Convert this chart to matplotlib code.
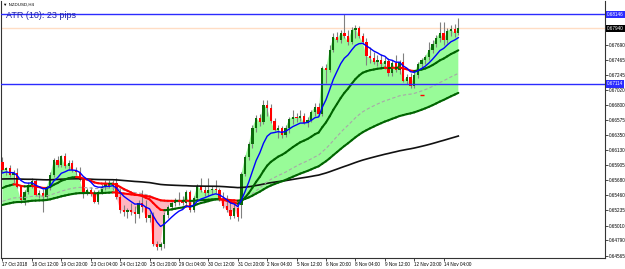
import numpy as np
import matplotlib
matplotlib.use("Agg")
import matplotlib.pyplot as plt
from matplotlib.transforms import blended_transform_factory

plt.rcParams["font.family"] = ["Liberation Sans", "DejaVu Sans"]

# NZDUSD H4 candles, 17 Oct 2018 -> 14 Nov 2018
open_ = [0.65954, 0.65836, 0.65865, 0.65761, 0.65791, 0.65583, 0.65390, 0.65509, 0.65613, 0.65672,
         0.65464, 0.65494, 0.65435, 0.65568, 0.65761, 0.65984, 0.65910, 0.66043, 0.65895, 0.65940,
         0.65836, 0.65806, 0.65687, 0.65494, 0.65539, 0.65494, 0.65360, 0.65509, 0.65583, 0.65628,
         0.65598, 0.65643, 0.65435, 0.65242, 0.65212, 0.65242, 0.65212, 0.65182, 0.65346, 0.65286,
         0.65123, 0.65167, 0.64737, 0.64692, 0.64737, 0.65167, 0.65286, 0.65346, 0.65375, 0.65390,
         0.65346, 0.65509, 0.65242, 0.65420, 0.65598, 0.65539, 0.65494, 0.65539, 0.65553, 0.65539,
         0.65405, 0.65301, 0.65242, 0.65152, 0.65271, 0.65316, 0.65776, 0.66029, 0.66222, 0.66459,
         0.66608, 0.66548, 0.66801, 0.66756, 0.66563, 0.66430, 0.66459, 0.66355, 0.66459, 0.66593,
         0.66623, 0.66608, 0.66637, 0.66533, 0.66578, 0.66697, 0.66771, 0.66667, 0.67350, 0.67321,
         0.67618, 0.67811, 0.67766, 0.67870, 0.67825, 0.67736, 0.67915, 0.67944, 0.67825, 0.67736,
         0.67528, 0.67499, 0.67439, 0.67469, 0.67410, 0.67454, 0.67276, 0.67424, 0.67321, 0.67439,
         0.67157, 0.67217, 0.67083, 0.67246, 0.67410, 0.67469, 0.67514, 0.67618, 0.67707, 0.67796,
         0.67870, 0.67766, 0.67900, 0.67929, 0.67870]
high = [0.66029, 0.65880, 0.65910, 0.65836, 0.65865, 0.65613, 0.65539, 0.65657, 0.65717, 0.65702,
        0.65539, 0.65553, 0.65598, 0.65806, 0.66014, 0.66043, 0.66058, 0.66088, 0.65984, 0.65984,
        0.65880, 0.65880, 0.65717, 0.65568, 0.65583, 0.65539, 0.65539, 0.65628, 0.65687, 0.65687,
        0.65687, 0.65717, 0.65568, 0.65316, 0.65271, 0.65346, 0.65301, 0.65390, 0.65539, 0.65390,
        0.65212, 0.65212, 0.64781, 0.64766, 0.65212, 0.65316, 0.65390, 0.65420, 0.65509, 0.65449,
        0.65539, 0.65539, 0.65449, 0.65628, 0.65717, 0.65598, 0.65717, 0.65598, 0.65687, 0.65568,
        0.65509, 0.65464, 0.65390, 0.65346, 0.65331, 0.65806, 0.66058, 0.66251, 0.66504, 0.66652,
        0.66667, 0.66875, 0.66875, 0.66816, 0.66608, 0.66504, 0.66489, 0.66504, 0.66623, 0.66727,
        0.66682, 0.66727, 0.66682, 0.66623, 0.66727, 0.66830, 0.66830, 0.67380, 0.67410, 0.67692,
        0.67870, 0.67885, 0.67915, 0.68146, 0.67915, 0.67959, 0.67989, 0.67974, 0.67870, 0.67796,
        0.67662, 0.67588, 0.67543, 0.67558, 0.67514, 0.67499, 0.67469, 0.67543, 0.67469, 0.67573,
        0.67261, 0.67276, 0.67291, 0.67439, 0.67499, 0.67543, 0.67736, 0.67766, 0.67840, 0.68033,
        0.68033, 0.67944, 0.67989, 0.68004, 0.68093]
low = [0.65806, 0.65761, 0.65732, 0.65643, 0.65568, 0.65346, 0.65316, 0.65479, 0.65568, 0.65449,
       0.65420, 0.65212, 0.65405, 0.65539, 0.65732, 0.65880, 0.65880, 0.65865, 0.65836, 0.65806,
       0.65761, 0.65672, 0.65420, 0.65464, 0.65449, 0.65346, 0.65331, 0.65479, 0.65539, 0.65568,
       0.65539, 0.65405, 0.65197, 0.65152, 0.65123, 0.65167, 0.65049, 0.65123, 0.65212, 0.65063,
       0.65063, 0.64707, 0.64648, 0.64648, 0.64677, 0.65123, 0.65242, 0.65301, 0.65316, 0.65316,
       0.65286, 0.65212, 0.65212, 0.65375, 0.65509, 0.65449, 0.65449, 0.65479, 0.65494, 0.65375,
       0.65271, 0.65212, 0.65108, 0.65123, 0.65078, 0.65123, 0.65746, 0.65984, 0.66162, 0.66400,
       0.66489, 0.66519, 0.66637, 0.66533, 0.66415, 0.66311, 0.66311, 0.66326, 0.66385, 0.66519,
       0.66548, 0.66563, 0.66519, 0.66474, 0.66548, 0.66637, 0.66637, 0.66637, 0.67128, 0.67291,
       0.67588, 0.67736, 0.67721, 0.67796, 0.67692, 0.67707, 0.67796, 0.67796, 0.67707, 0.67395,
       0.67424, 0.67410, 0.67380, 0.67350, 0.67335, 0.67231, 0.67231, 0.67291, 0.67261, 0.67142,
       0.67113, 0.67053, 0.67053, 0.67202, 0.67350, 0.67410, 0.67469, 0.67573, 0.67662, 0.67736,
       0.67692, 0.67721, 0.67825, 0.67811, 0.67840]
close = [0.65836, 0.65865, 0.65761, 0.65791, 0.65583, 0.65390, 0.65509, 0.65613, 0.65672, 0.65464,
         0.65494, 0.65435, 0.65568, 0.65761, 0.65984, 0.65910, 0.66043, 0.65895, 0.65940, 0.65836,
         0.65806, 0.65687, 0.65494, 0.65539, 0.65494, 0.65360, 0.65509, 0.65583, 0.65628, 0.65598,
         0.65643, 0.65435, 0.65242, 0.65212, 0.65242, 0.65212, 0.65182, 0.65346, 0.65286, 0.65123,
         0.65167, 0.64737, 0.64692, 0.64737, 0.65167, 0.65286, 0.65346, 0.65375, 0.65390, 0.65346,
         0.65509, 0.65242, 0.65420, 0.65598, 0.65539, 0.65494, 0.65539, 0.65553, 0.65539, 0.65405,
         0.65301, 0.65242, 0.65152, 0.65271, 0.65138, 0.65776, 0.66029, 0.66222, 0.66459, 0.66608,
         0.66548, 0.66801, 0.66756, 0.66563, 0.66430, 0.66459, 0.66355, 0.66459, 0.66593, 0.66623,
         0.66608, 0.66637, 0.66533, 0.66578, 0.66697, 0.66771, 0.66667, 0.67350, 0.67321, 0.67618,
         0.67811, 0.67766, 0.67870, 0.67825, 0.67736, 0.67915, 0.67944, 0.67825, 0.67736, 0.67528,
         0.67499, 0.67439, 0.67469, 0.67410, 0.67454, 0.67276, 0.67424, 0.67321, 0.67439, 0.67157,
         0.67217, 0.67083, 0.67246, 0.67410, 0.67469, 0.67514, 0.67618, 0.67707, 0.67796, 0.67870,
         0.67766, 0.67900, 0.67929, 0.67870, 0.67940]

time_labels = ["17 Oct 2018", "18 Oct 12:00", "19 Oct 20:00", "23 Oct 04:00", "24 Oct 12:00",
               "25 Oct 20:00", "29 Oct 04:00", "30 Oct 12:00", "31 Oct 20:00", "2 Nov 04:00",
               "5 Nov 12:00", "6 Nov 20:00", "8 Nov 04:00", "9 Nov 12:00", "12 Nov 20:00",
               "14 Nov 04:00"]
price_ticks = [0.67690, 0.67465, 0.67245, 0.67020, 0.66800, 0.66575, 0.66350, 0.66130,
               0.65905, 0.65680, 0.65460, 0.65235, 0.65010, 0.64790, 0.64565]

LEVEL_HI = 0.68146
LEVEL_LO = 0.67114
BID = 0.67940
signal_bars = [114]
signal_prices = [0.66949]

# EMA periods and the value each line starts at on the left edge
EMA_FAST, EMA_MID, EMA_SLOW, EMA_BASE, EMA_LONG = 9, 23, 50, 75, 200
START_FAST, START_MID, START_SLOW, START_BASE, START_LONG = 0.65792, 0.65568, 0.65370, 0.65316, 0.65702

BULL = "#0B6B0B"
BEAR = "#FF0000"
WICK = "#808080"
GREEN_LINE = "#006400"
FILL_UP = "#98FB98"
FILL_DN = "#FFB6C1"
LINE_BLUE = "#2B2BFF"


def ema(values, period, start):
    a = 2.0 / (period + 1)
    out = [start]
    for v in values[1:]:
        out.append(out[-1] + a * (v - out[-1]))
    return np.array(out)


def two_tone(ax, x, y, lw):
    for i in range(len(x) - 1):
        c = GREEN_LINE if y[i + 1] >= y[i] else BEAR
        ax.plot(x[i:i + 2], y[i:i + 2], color=c, lw=lw, solid_capstyle="round", zorder=5)


o, h, l, c = map(np.array, (open_, high, low, close))
x = np.arange(len(c))

fast = ema(c, EMA_FAST, START_FAST)
mid = ema(c, EMA_MID, START_MID)
slow = ema(c, EMA_SLOW, START_SLOW)
base = ema(c, EMA_BASE, START_BASE)
longl = ema(c, EMA_LONG, START_LONG)

fig = plt.figure(figsize=(6.25, 2.69), dpi=100)
W, H = 625, 269
ax = fig.add_axes([1.5 / W, 11 / H, 603.5 / W, 257 / H])
ax.set_xlim(-0.27, 163.9)
ax.set_ylim(0.64529, 0.68345)

ax.fill_between(x, c, base, where=c >= base, interpolate=True, color=FILL_UP, lw=0, zorder=1)
ax.fill_between(x, c, base, where=c < base, interpolate=True, color=FILL_DN, lw=0, zorder=1)

# candles
up = c >= o
ax.vlines(x, l, h, color=WICK, lw=0.8, zorder=2)
ax.bar(x[up], (c - o)[up], bottom=o[up], width=0.62, color=BULL, lw=0, zorder=3)
ax.bar(x[~up], (o - c)[~up], bottom=c[~up], width=0.62, color=BEAR, lw=0, zorder=3)

ax.plot(x, longl, color="#111111", lw=1.2, zorder=4)
ax.plot(x, slow, color="#A8A8A8", lw=0.8, ls=(0, (3, 2)), zorder=4)
two_tone(ax, x, base, 1.5)
two_tone(ax, x, mid, 1.5)
ax.plot(x, fast, color="#0000FF", lw=1.0, zorder=6)
ax.scatter(signal_bars, signal_prices, marker="_", s=8, color=BEAR, lw=1, zorder=6)

ax.axhline(LEVEL_HI, color=LINE_BLUE, lw=1.0, zorder=7)
ax.axhline(LEVEL_LO, color=LINE_BLUE, lw=1.0, zorder=7)
ax.axhline(BID, color="#FFDDC4", lw=1.0, zorder=0.5)

ax.yaxis.tick_right()
ax.set_yticks(price_ticks)
ax.set_yticklabels([f"{v:.5f}" for v in price_ticks])
ax.set_xticks(np.arange(0, 8 * len(time_labels), 8))
ax.set_xticklabels(time_labels, ha="left")
ax.tick_params(axis="both", labelsize=3.3, length=2, width=0.5, pad=1, colors="black")
for s in ("left", "bottom", "right"):
    ax.spines[s].set_linewidth(0.8)
    ax.spines[s].set_color("#333333")
ax.spines["top"].set_visible(False)

tr = blended_transform_factory(ax.transAxes, ax.transData)
for val, fc in [(LEVEL_HI, "#2B2BFF"), (BID, "#000000"), (LEVEL_LO, "#2B2BFF")]:
    ax.text(1.003, val, f"{val:.5f}", transform=tr, ha="left", va="center", fontsize=3.3,
            color="white", bbox=dict(boxstyle="square,pad=0.25", fc=fc, ec="none"), zorder=8)

fig.text(3 / W, 1 - 5 / H, "\u25bc NZDUSD,H4", fontsize=3.2, va="center", ha="left")
fig.text(6 / W, 1 - 16 / H, "ATR (10): 23 pips", fontsize=6.5, va="center", ha="left",
         color="#1E22AA")

fig.savefig("out.png", dpi=100)
